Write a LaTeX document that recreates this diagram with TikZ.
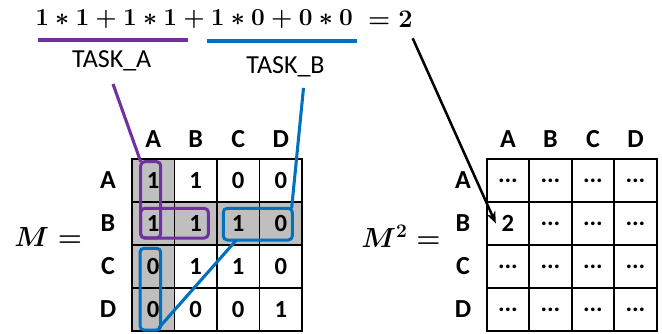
\documentclass[tikz,border=0pt]{standalone}
\usepackage[no-math]{fontspec}
\setmainfont{Carlito}
\usetikzlibrary{positioning, arrows.meta, calc}
\definecolor{taskpurple}{HTML}{7030A0}
\definecolor{taskblue}{HTML}{0070C0}
\definecolor{cellgray}{HTML}{BFBFBF}
\newcommand{\bmath}[1]{{\boldmath$#1$}}

\begin{document}
\begin{tikzpicture}[
  x=0.75pt, y=-0.75pt,
  >=Stealth,
  cell/.style={rectangle, draw, line width=1.3pt, minimum width=31.875pt,
    minimum height=32.25pt, inner sep=0pt, font=\fontsize{18.5}{20}\selectfont\bfseries, fill=#1},
  cell/.default={white},
  hdr/.style={font=\fontsize{19.5}{21}\selectfont\bfseries, inner sep=0pt},
  tasklbl/.style={font=\fontsize{19.5}{22}\selectfont, inner sep=0pt},
  eqlbl/.style={font=\fontsize{17.28}{20}\selectfont, inner sep=0pt},
  mathlbl/.style={font=\fontsize{20.74}{24}\selectfont, inner sep=0pt, anchor=base west},
  ubar/.style={line width=3pt, #1},
  sel/.style={draw=#1, line width=2.25pt, rounded corners=3pt, inner sep=0pt, outer sep=0pt},
  link/.style={line width=2.3pt, #1},
]
\useasboundingbox (0,0) rectangle (662,334);

% --- Equation on top ---
\node[eqlbl, anchor=west] (sum) at (35,19) {\scalebox{1.06}{\bmath{1*1+1*1+1*0+0*0}}};
\node[eqlbl, anchor=east] (res) at (413,19) {\scalebox{1.1}{\bmath{=2}}};
\draw[ubar=taskpurple] (38,40) -- (188,40);
\draw[ubar=taskblue] (207,41) -- (357,41);
\node[tasklbl] (tA) at (111.7,60.5) {TASK\_A};
\node[tasklbl] (tB) at (285.5,66.7) {TASK\_B};

% --- Matrix M ---
\node[mathlbl] (mlbl) at (14,247) {\bmath{M =}};
\foreach \r [count=\i] in {A,B,C,D} {
  \node[hdr] (mr\r) at (108, {159+43*(\i-0.5)}) {\r};
  \node[hdr] (mc\r) at ({132+42.5*(\i-0.5)}, 139) {\r};
}
\foreach \vals [count=\i] in {{1,1,0,0}, {1,1,1,0}, {0,1,1,0}, {0,0,0,1}} {
  \foreach \v [count=\j] in \vals {
    \pgfmathtruncatemacro{\g}{(\i==2)||(\j==1)}
    \ifnum\g=1 \def\cf{cellgray}\else\def\cf{white}\fi
    \node[cell=\cf] (m\i\j) at ({132+42.5*(\j-0.5)}, {159+43*(\i-0.5)}) {\v};
  }
}

% --- Matrix M^2 ---
\node[mathlbl] (sqlbl) at (361,248) {\bmath{M^2 =}};
\foreach \r [count=\i] in {A,B,C,D} {
  \node[hdr] (sr\r) at (463, {159+43*(\i-0.5)}) {\r};
  \node[hdr] (sc\r) at ({486.7+42.5*(\i-0.5)}, 139) {\r};
  \foreach \j in {1,...,4} {
    \ifnum\i=2 \ifnum\j=1 \def\cv{2\hspace{6pt}}\else\def\cv{...}\fi \else\def\cv{...}\fi
    \node[cell] (s\i\j) at ({486.7+42.5*(\j-0.5)}, {159+43*(\i-0.5)}) {\cv};
  }
}

% --- Selections ---
\node[sel=taskpurple, minimum width=15pt, minimum height=57.2pt] (selAcol) at (150.7,199.85) {};
\node[sel=taskpurple, minimum width=50.7pt, minimum height=22.3pt] (selArow) at (174.5,223.15) {};
\node[sel=taskblue, minimum width=51.75pt, minimum height=23.8pt] (selBrow) at (257.8,224.15) {};
\node[sel=taskblue, minimum width=15.5pt, minimum height=61.3pt] (selBcol) at (150.35,289.15) {};

% --- Links ---
\coordinate (tAfoot) at (113,84);
\coordinate (tBfoot) at (303.5,88);
\coordinate (resfoot) at (412.7,38.3);
\draw[link=taskpurple] (tAfoot) -- (selAcol.north west);
\draw[link=taskblue] (tBfoot) -- ([xshift=-0.5pt]selBrow.north east);
\draw[link=taskblue] ([shift={(-1.5pt,1.5pt)}]selBcol.south east)
  -- ($(selBrow.south west)!0.19!(selBrow.south east)$);
\draw[->, line width=1.9pt, -{Stealth[length=9pt, width=7pt]}] (resfoot) -- ([xshift=7.5pt]s21.west);

\end{tikzpicture}
\end{document}
